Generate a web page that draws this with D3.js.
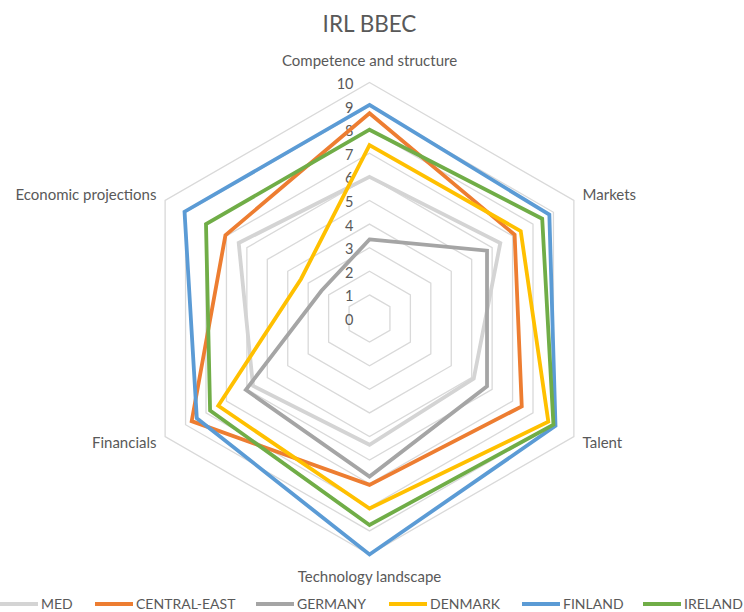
<!DOCTYPE html>
<html>
<head>
<meta charset="utf-8">
<script src="https://cdn.jsdelivr.net/npm/d3@7"></script>
<style>
  body { margin: 0; background: #fff; }
  text { font-family: Lato, "Open Sans", sans-serif; fill: #595959; }
</style>
</head>
<body>
<div id="chart"></div>
<script>
const axes = ["Competence and structure", "Markets", "Talent", "Technology landscape", "Financials", "Economic projections"];
const seriesNames = ["MED", "CENTRAL-EAST", "GERMANY", "DENMARK", "FINLAND", "IRELAND"];
const colors = ["#d4d4d4", "#ed7d31", "#a5a5a5", "#ffc000", "#5b9bd5", "#70ad47"];
const med = [6.0, 6.4, 5.1, 5.35, 5.7, 6.4];
const centralEast = [8.7, 7.1, 7.45, 7.05, 8.7, 7.05];
const germany = [3.35, 5.75, 5.75, 6.7, 6.05, 2.35];
const denmark = [7.35, 7.4, 8.75, 8.05, 7.4, 3.35];
const finland = [9.05, 8.8, 9.1, 10, 8.45, 9.05];
const ireland = [8.0, 8.45, 9.0, 8.75, 7.8, 8.0];
const ticks = [0, 1, 2, 3, 4, 5, 6, 7, 8, 9, 10];

const allSeries = [med, centralEast, germany, denmark, finland, ireland];

const width = 744, height = 612;
const cx = 369.5, cy = 318.5, R = 236;

const svg = d3.select("#chart").append("svg")
    .attr("width", width)
    .attr("height", height);

svg.append("text")
    .attr("x", cx)
    .attr("y", 32)
    .attr("text-anchor", "middle")
    .style("font-size", "22.5px")
    .text("IRL BBEC");

const r = d3.scaleLinear().domain([0, 10]).range([0, R]);
const angle = i => i * 2 * Math.PI / axes.length;

const g = svg.append("g").attr("transform", `translate(${cx},${cy})`);

// grid hexagons
const gridLine = d3.lineRadial()
    .angle((d, i) => angle(i))
    .radius(d => r(d))
    .curve(d3.curveLinearClosed);

g.selectAll(".grid")
    .data(ticks.filter(t => t > 0))
    .enter().append("path")
    .attr("class", "grid")
    .attr("d", t => gridLine(axes.map(() => t)))
    .attr("fill", "none")
    .attr("stroke", "#d9d9d9")
    .attr("stroke-width", 1.3);

// tick labels
g.selectAll(".tick")
    .data(ticks)
    .enter().append("text")
    .attr("class", "tick")
    .attr("x", -16)
    .attr("y", t => -r(t) + 1.5)
    .attr("dy", "0.35em")
    .attr("text-anchor", "end")
    .style("font-size", "14.5px")
    .text(t => t);

// axis labels
g.selectAll(".axis-label")
    .data(axes)
    .enter().append("text")
    .attr("class", "axis-label")
    .attr("x", (d, i) => {
        const s = Math.sin(angle(i));
        return Math.abs(s) < 0.01 ? 0 : (r(10) + 10) * s;
    })
    .attr("y", (d, i) => {
        const c = -Math.cos(angle(i));
        if (c < -0.9) return -r(10) - 22;
        if (c > 0.9) return r(10) + 22;
        return r(10) * c + (c < 0 ? -6 : 6);
    })
    .attr("dy", "0.35em")
    .attr("text-anchor", (d, i) => {
        const s = Math.sin(angle(i));
        return Math.abs(s) < 0.01 ? "middle" : (s > 0 ? "start" : "end");
    })
    .style("font-size", "15px")
    .text(d => d);

// series
const seriesLine = d3.lineRadial()
    .angle((d, i) => angle(i))
    .radius(d => r(d))
    .curve(d3.curveLinearClosed);

g.selectAll(".series")
    .data(allSeries)
    .enter().append("path")
    .attr("class", "series")
    .attr("d", d => seriesLine(d))
    .attr("fill", "none")
    .attr("stroke", (d, i) => colors[i])
    .attr("stroke-width", 3.8)
    .attr("stroke-linejoin", "miter");

// legend
const legendX = [0, 95, 256, 389, 522, 643];
const legend = svg.selectAll(".legend")
    .data(seriesNames)
    .enter().append("g")
    .attr("class", "legend")
    .attr("transform", (d, i) => `translate(${legendX[i]},604)`);

legend.append("line")
    .attr("x1", 0).attr("x2", 38)
    .attr("stroke", (d, i) => colors[i])
    .attr("stroke-width", 3.8);

legend.append("text")
    .attr("x", 41)
    .attr("dy", "0.36em")
    .style("font-size", "14px")
    .text(d => d);
</script>
</body>
</html>
